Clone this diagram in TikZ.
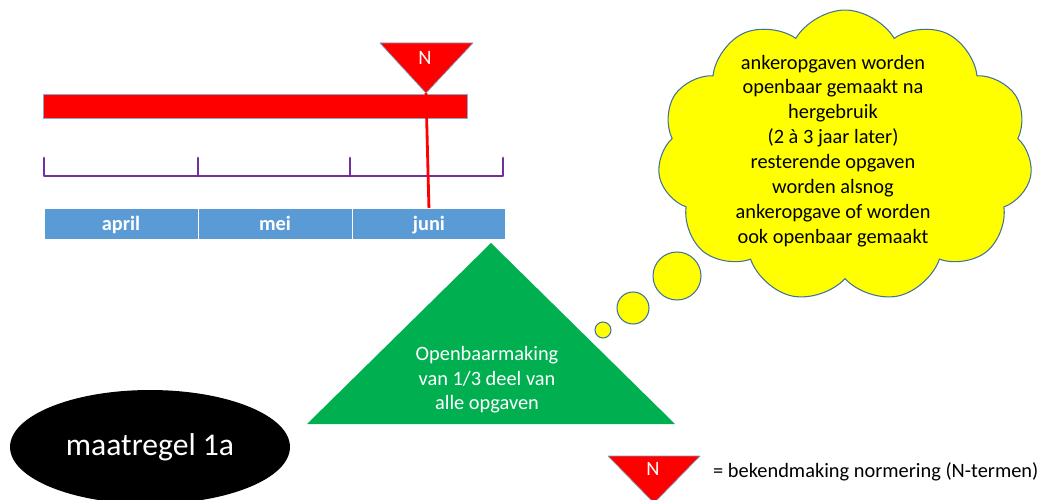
\documentclass[tikz,border=0pt]{standalone}
\usepackage{fontspec}
\setmainfont{Carlito}
\usetikzlibrary{positioning,shapes.geometric,shapes.symbols}
\definecolor{barred}{HTML}{FF0000}
\definecolor{monthblue}{HTML}{5B9BD5}
\definecolor{tickpurple}{HTML}{7030A0}
\definecolor{opengreen}{HTML}{00B050}
\definecolor{cloudyellow}{HTML}{FFFF00}
\definecolor{edgeblue}{HTML}{41719C}

\begin{document}
\begin{tikzpicture}[
  x=0.02cm,y=-0.02cm,
  line join=round,
  every node/.style={font=\fontsize{11.6}{14.2}\selectfont},
  month/.style={draw=white,line width=0.5pt,fill=monthblue,text=white,
    font=\fontsize{11.6}{14}\selectfont\bfseries,
    text height=9pt,text depth=1.3pt,outer sep=0pt,
    minimum width=3.08cm,minimum height=0.62cm,inner sep=0pt},
  tick/.style={draw=tickpurple,line width=1.6pt,line cap=round},
  marker/.style={fill=barred,draw=edgeblue!70,line width=0.4pt},
  bubble/.style={circle,draw=edgeblue,line width=0.6pt,fill=cloudyellow,
    inner sep=0pt}
]
\useasboundingbox (0,0) rectangle (1049,500);

% Time line: bar, scale and months
\node[draw=edgeblue!60,line width=0.4pt,fill=barred,minimum width=8.48cm,
  minimum height=0.48cm,inner sep=0pt] (bar) at (255,106) {};
\draw[tick] (44,158) -- (44,176) -- (503,176) -- (503,158);
\foreach \x in {198,350}
  \draw[tick] (\x,176) -- (\x,158);
\node[month] (apr) at (121,223.5) {april};
\node[month,right=0pt of apr] (mei) {mei};
\node[month,right=0pt of mei] (juni) {juni};

% N marker with its line down to june
\coordinate (napex) at (426,93);
\draw[barred,line width=1.6pt] (napex) -- (juni.north);
\draw[marker] (380,43) -- (473,43) -- (napex) -- cycle;
\node[text=white] (ntop) at (425,58) {N};

% Publication triangle
\fill[opengreen] (491,243) -- (675,424) -- (307,424) -- cycle;
\node[text=white,align=center,font=\fontsize{11.6}{13.9}\selectfont]
  (publish) at (487,380) {Openbaarmaking\\van 1/3 deel van\\alle opgaven};

% Thought cloud
\node[bubble,minimum size=0.32cm] (puff3) at (603,330) {};
\node[bubble,minimum size=0.64cm] (puff2) at (633,308) {};
\node[bubble,minimum size=0.96cm] (puff1) at (677,276) {};
\node[cloud,cloud puffs=11,cloud puff arc=120,aspect=1.25,draw=edgeblue,
  line width=0.6pt,fill=cloudyellow,minimum width=7.5cm,minimum height=5.84cm,
  inner sep=0pt] (thought) at (845,156) {};
\node[align=center] (thoughttext) at (833,151)
  {ankeropgaven worden\\openbaar gemaakt na\\hergebruik\\(2 à 3 jaar later)\\
   resterende opgaven\\worden alsnog\\ankeropgave of worden\\ook openbaar gemaakt};

% Measure label
\node[ellipse,fill=black,minimum width=5.6cm,minimum height=2.28cm,
  text=white,font=\fontsize{18}{20}\selectfont] (measure) at (150,447)
  {maatregel 1a};

% Legend
\draw[marker] (608,456) -- (700,456) -- (654,503) -- cycle;
\node[text=white] (nkey) at (653,469) {N};
\node[anchor=west] (keytext) at (707,472) {= bekendmaking normering (N-termen)};

\end{tikzpicture}
\end{document}
